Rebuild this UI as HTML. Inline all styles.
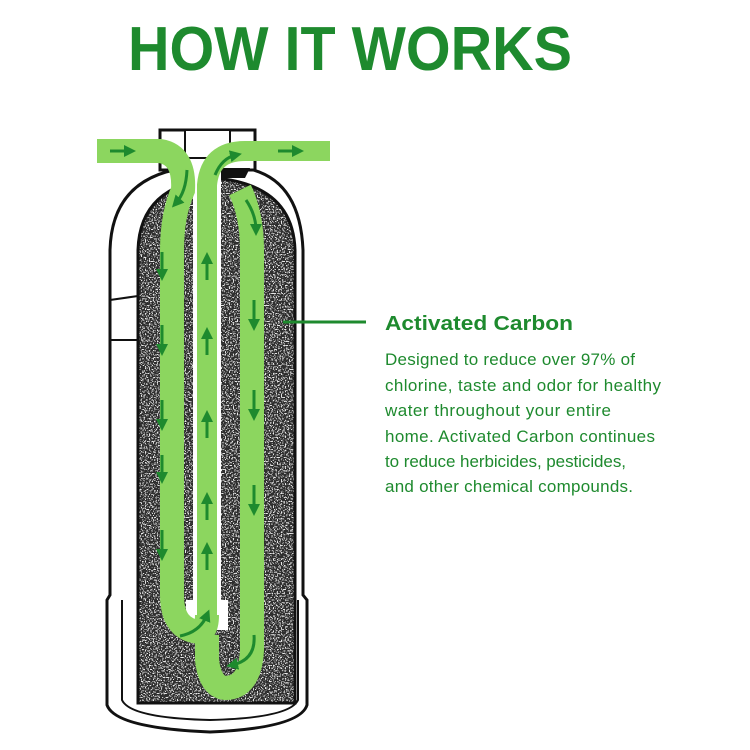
<!DOCTYPE html>
<html><head><meta charset="utf-8"><style>
html,body{margin:0;padding:0;background:#fff;width:750px;height:750px;overflow:hidden}
</style></head><body>
<svg width="750" height="750" viewBox="0 0 750 750" xmlns="http://www.w3.org/2000/svg">
<defs>
<filter id="noise" x="0" y="0" width="100%" height="100%">
<feTurbulence type="fractalNoise" baseFrequency="0.75" numOctaves="1" seed="3" result="t"/>
<feColorMatrix in="t" type="matrix" values="0 0 0 0 0  0 0 0 0 0  0 0 0 0 0  0 0 0 -14 6.3" result="m"/>
<feFlood flood-color="#e8e8e8" result="w"/>
<feComposite in="w" in2="m" operator="in" result="dots"/>
<feFlood flood-color="#2e2e2e" result="bg"/>
<feMerge><feMergeNode in="bg"/><feMergeNode in="dots"/></feMerge>
</filter>
<clipPath id="carb"><path d="M138,250 Q140,185 215,178 Q293,185 295,250 L295,703 L138,703 Z"/></clipPath>
<marker id="ah" markerWidth="4" markerHeight="4" refX="2" refY="2" orient="auto" markerUnits="strokeWidth"><path d="M0,0 L4,2 L0,4 Z" fill="#1e8a2e"/></marker>
</defs>
<text x="350" y="70" text-anchor="middle" font-family="Liberation Sans, sans-serif" font-weight="bold" font-size="62" fill="#1e8a2e" textLength="444" lengthAdjust="spacingAndGlyphs">HOW IT WORKS</text>

<!-- tank -->
<path d="M110,595 L110,250 Q112,178 185,168 L245,168 Q300,178 303,250 L303,595 L307,600 L307,705 Q300,728 210,732 Q115,728 107,705 L107,600 Z" fill="#fff" stroke="#111" stroke-width="3"/>
<line x1="110" y1="300" x2="138" y2="296" stroke="#111" stroke-width="2"/>
<line x1="110" y1="340" x2="138" y2="340" stroke="#111" stroke-width="2"/>
<path d="M122,600 L122,700 Q130,718 210,720 Q290,718 298,700 L298,600" fill="none" stroke="#111" stroke-width="2"/>
<!-- carbon -->
<g clip-path="url(#carb)"><rect x="130" y="170" width="175" height="540" filter="url(#noise)"/></g>
<path d="M138,250 Q140,185 215,178 Q293,185 295,250 L295,703 L138,703 Z" fill="none" stroke="#111" stroke-width="3"/>

<!-- head -->
<rect x="160" y="130" width="95" height="40" fill="#fff" stroke="#111" stroke-width="3"/>
<rect x="185" y="130" width="45" height="28" fill="#fff" stroke="#111" stroke-width="2"/>
<path d="M175,168 L250,168 L245,178 L180,178 Z" fill="#111"/>

<!-- center riser white pipe -->
<rect x="193" y="160" width="28" height="445" fill="#fff"/>
<rect x="186" y="600" width="42" height="30" fill="#fff"/>

<!-- green flow -->
<g fill="none" stroke="#8cd65f" stroke-linecap="butt">
<path d="M97,151 L160,151 Q185,155 183,190 Q172,215 172,250 L172,595 Q172,630 200,632 Q207,630 207,615" stroke-width="24"/>
<path d="M207,620 L207,185 Q210,151 245,151 L330,151" stroke-width="20"/>
<path d="M240,190 Q252,215 252,250 L252,650 Q250,688 225,688 Q210,686 207,660 L207,635" stroke-width="24"/>
</g>
<!-- arrows -->
<g stroke="#1e8a2e" stroke-width="3" fill="none" marker-end="url(#ah)">
<line x1="110" y1="151" x2="130" y2="151"/>
<line x1="278" y1="151" x2="298" y2="151"/>
<path d="M187,170 Q186,192 176,203"/>
<path d="M215,175 Q222,158 236,155"/>
<path d="M246,200 Q256,215 256,230"/>
<line x1="162" y1="252" x2="162" y2="275"/>
<line x1="162" y1="325" x2="162" y2="350"/>
<line x1="162" y1="400" x2="162" y2="425"/>
<line x1="162" y1="455" x2="162" y2="478"/>
<line x1="162" y1="530" x2="162" y2="555"/>
<line x1="207" y1="280" x2="207" y2="258"/>
<line x1="207" y1="355" x2="207" y2="333"/>
<line x1="207" y1="438" x2="207" y2="416"/>
<line x1="207" y1="520" x2="207" y2="498"/>
<line x1="207" y1="570" x2="207" y2="548"/>
<line x1="254" y1="300" x2="254" y2="325"/>
<line x1="254" y1="390" x2="254" y2="415"/>
<line x1="254" y1="485" x2="254" y2="510"/>
<path d="M180,636 Q200,632 207,615"/>
<path d="M254,635 Q256,660 232,665"/>
</g>

<!-- leader -->
<line x1="283" y1="322" x2="366" y2="322" stroke="#1e8a2e" stroke-width="3"/>
<g font-family="Liberation Sans, sans-serif" fill="#1e8a2e">
<text x="385" y="330" font-weight="bold" font-size="20" textLength="188" lengthAdjust="spacingAndGlyphs">Activated Carbon</text>
<g font-size="17" lengthAdjust="spacingAndGlyphs">
<text x="385" y="365" textLength="250">Designed to reduce over 97% of</text>
<text x="385" y="391" textLength="276">chlorine, taste and odor for healthy</text>
<text x="385" y="416" textLength="226">water throughout your entire</text>
<text x="385" y="442" textLength="270">home. Activated Carbon continues</text>
<text x="385" y="467" textLength="241">to reduce herbicides, pesticides,</text>
<text x="385" y="492" textLength="248">and other chemical compounds.</text>
</g></g>
</svg>
</body></html>
